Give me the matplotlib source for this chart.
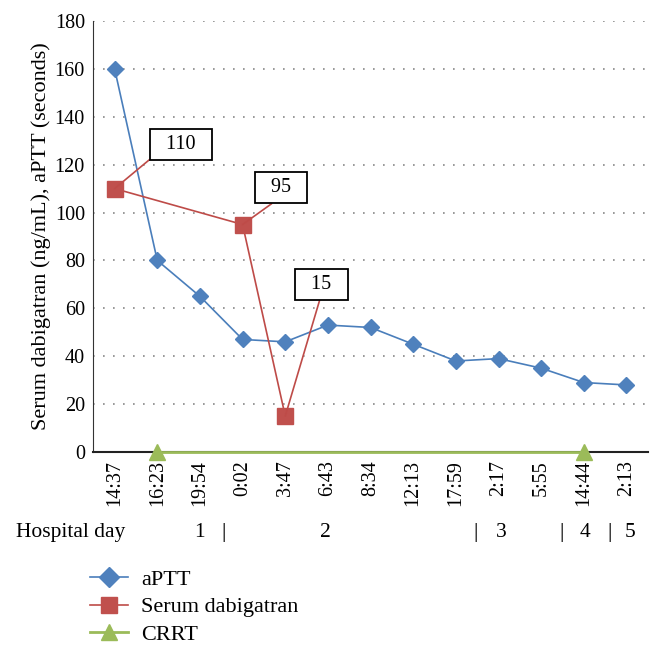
import numpy as np
import matplotlib
matplotlib.use('Agg')
import matplotlib.pyplot as plt
from matplotlib.transforms import blended_transform_factory

times = ['14:37', '16:23', '19:54', '0:02', '3:47', '6:43', '8:34',
         '12:13', '17:59', '2:17', '5:55', '14:44', '2:13']
aptt = [160, 80, 65, 47, 46, 53, 52, 45, 38, 39, 35, 29, 28]
dabi_idx = [0, 3, 4]
dabi = [110, 95, 15]
crrt_idx = [1, 11]
crrt = [0, 0]
day_labels = ['1', '|', '2', '|', '3', '|', '4', '|', '5']
day_pos = [2.0, 2.56, 4.95, 8.47, 9.07, 10.47, 11.02, 11.6, 12.09]

plt.rcParams['font.family'] = 'Liberation Serif'
fs = 14.5

fig = plt.figure(figsize=(6.57, 6.56), dpi=100)
ax = fig.add_axes([0.142, 0.311, 0.844, 0.657])

x = np.arange(len(times))
ax.plot(crrt_idx, crrt, color='#9BBB59', lw=2, marker='^', ms=11,
        clip_on=False, zorder=3, label='CRRT')
ax.plot(x, aptt, color='#4A7EBB', lw=1.2, marker='D', ms=8.5,
        mfc='#4F81BD', mec='#4F81BD', zorder=4, label='aPTT')
ax.plot(dabi_idx, dabi, color='#BE4B48', lw=1.2, marker='s', ms=11,
        mfc='#C0504D', mec='#C0504D', zorder=5, label='Serum dabigatran')

# value boxes
boxes = [(1.56, 124.5, (0, 0)), (3.9, 106.5, (0.5, 0)), (4.85, 66.0, (0.5, 0))]
for (xi, yi), (tx, ty, rp) in zip(zip(dabi_idx, dabi), boxes):
    ax.annotate('  %d  ' % yi, xy=(xi, yi), xytext=(tx, ty), fontsize=fs,
                ha='center', va='bottom',
                bbox=dict(boxstyle='square,pad=0.3', fc='white', ec='black', lw=1.3),
                arrowprops=dict(arrowstyle='-', color='#BE4B48', lw=1.2,
                                shrinkA=0, shrinkB=0, relpos=rp),
                zorder=6)

ax.set_xlim(-0.5, len(times) - 0.5)
ax.set_ylim(0, 180)
ax.set_yticks(np.arange(0, 181, 20))
ax.set_xticks(x)
ax.set_xticklabels(times, rotation=90, fontsize=fs)
ax.tick_params(axis='y', labelsize=fs, length=0, pad=6)
ax.tick_params(axis='x', length=0, pad=6)
ax.yaxis.grid(True, color='#888888', linestyle=(0, (1, 5)), lw=1.2)
ax.set_axisbelow(True)
for s in ['top', 'right']:
    ax.spines[s].set_visible(False)
ax.spines['left'].set_color('#333333')
ax.spines['bottom'].set_color('#222222')
ax.spines['bottom'].set_linewidth(1.5)
ax.set_ylabel('Serum dabigatran (ng/mL), aPTT (seconds)', fontsize=16, labelpad=3)

# hospital day row
tr = blended_transform_factory(ax.transData, fig.transFigure)
fig.text(0.024, 0.189, 'Hospital day', fontsize=15.5, ha='left', va='center')
for lab, p in zip(day_labels, day_pos):
    ax.text(p, 0.189, lab, transform=tr, fontsize=15.5, ha='center', va='center')

h, l = ax.get_legend_handles_labels()
order = [1, 2, 0]
leg = fig.legend([h[i] for i in order], [l[i] for i in order], loc='upper left',
                 bbox_to_anchor=(0.107, 0.163), frameon=False, fontsize=16,
                 handlelength=1.7, labelspacing=0.32, handletextpad=0.6)
for hd, ms in zip(leg.legend_handles, [10.5, 11, 12]):
    hd.set_markersize(ms)

fig.savefig('out.png', dpi=100)
